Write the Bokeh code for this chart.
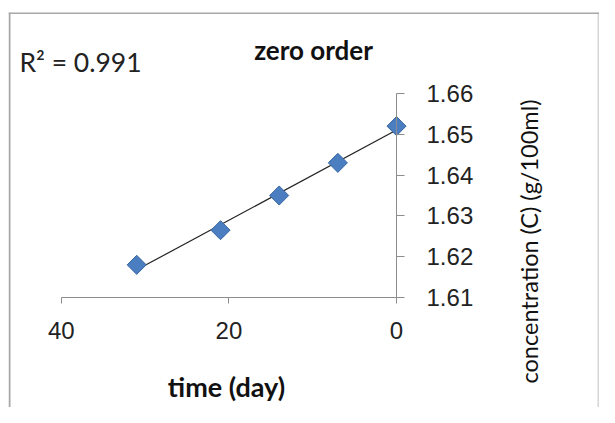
import numpy as np
from bokeh.plotting import figure
from bokeh.models import (Range1d, LinearAxis, FixedTicker, NumeralTickFormatter,
                          Label, Span, ColumnDataSource)
from bokeh.embed import file_html
from bokeh.resources import INLINE

# ---- data ----
time_day = [31, 21, 14, 7, 0]
concentration = [1.618, 1.6265, 1.635, 1.643, 1.652]
x_ticks = [40, 20, 0]
y_ticks = [1.61, 1.62, 1.63, 1.64, 1.65, 1.66]
title_text = "zero order"
r2_text = "R\u00b2 = 0.991"
x_title = "time (day)"
y_title = "concentration (C) (g/100ml)"

# linear trendline (least squares over the data)
slope, intercept = np.polyfit(time_day, concentration, 1)
trend_x = [max(time_day), min(time_day)]
trend_y = [slope * t + intercept for t in trend_x]

p = figure(width=599, height=407, output_backend="svg", toolbar_location=None,
           x_range=Range1d(46.30, -24.22), y_range=Range1d(1.58304, 1.67985),
           x_axis_type=None, y_axis_type=None,
           min_border_left=8, min_border_right=0, min_border_bottom=0, min_border_top=12)
p.outline_line_color = None
p.background_fill_color = "white"
p.border_fill_color = "white"

# chart-area border (left, top, right)
border_col = "#a8a8a8"
p.add_layout(Span(location=46.18, dimension="height", line_color=border_col, line_width=2))
p.add_layout(Span(location=-24.1, dimension="height", line_color="#d6d6d6", line_width=2))
p.add_layout(Span(location=1.6797, dimension="width", line_color=border_col, line_width=2))

axis_col = "#8c8c8c"
xaxis = LinearAxis(fixed_location=min(y_ticks), bounds=(min(x_ticks), max(x_ticks)),
                   ticker=FixedTicker(ticks=x_ticks))
xaxis.axis_line_color = axis_col
xaxis.major_tick_line_color = axis_col
xaxis.major_tick_out = 6
xaxis.major_tick_in = 0
xaxis.minor_tick_line_color = None
xaxis.major_label_text_font = "Liberation Sans"
xaxis.major_label_text_font_size = "24px"
xaxis.major_label_text_color = "#222222"
xaxis.major_label_standoff = 19
p.add_layout(xaxis, "below")

yaxis = LinearAxis(fixed_location=min(x_ticks), bounds=(min(y_ticks), max(y_ticks)),
                   ticker=FixedTicker(ticks=y_ticks),
                   formatter=NumeralTickFormatter(format="0.00"))
yaxis.axis_line_color = axis_col
yaxis.major_tick_line_color = axis_col
yaxis.major_tick_out = 8
yaxis.major_tick_in = 0
yaxis.minor_tick_line_color = None
yaxis.major_label_text_font = "Liberation Sans"
yaxis.major_label_text_font_size = "24px"
yaxis.major_label_text_color = "#222222"
yaxis.major_label_standoff = 22
p.add_layout(yaxis, "right")

# trendline
p.line(trend_x, trend_y, line_color="#222222", line_width=1.2)

# data points
src = ColumnDataSource(dict(t=time_day, c=concentration))
p.scatter("t", "c", source=src, marker="square", size=13.5, angle=np.pi / 4,
          fill_color="#4a7ec0", line_color="#3a67a0", line_width=1)

# texts
p.add_layout(Label(x=9.90, y=1.67078, text=title_text, text_font="Lato",
                   text_font_style="bold", text_font_size="26px", text_color="#111111",
                   text_align="center", text_baseline="middle"))
p.add_layout(Label(x=44.99, y=1.66760, text=r2_text, text_font="Lato",
                   text_font_size="26.5px", text_color="#222222",
                   text_align="left", text_baseline="middle"))
p.add_layout(Label(x=20.29, y=1.58819, text=x_title, text_font="Lato",
                   text_font_style="bold", text_font_size="27px", text_color="#111111",
                   text_align="center", text_baseline="middle"))
p.add_layout(Label(x=-15.75, y=1.62373, text=y_title, text_font="Lato",
                   text_font_size="23.5px", text_color="#111111", angle=np.pi / 2,
                   text_align="center", text_baseline="middle"))

open("out.html", "w").write(file_html(p, INLINE))
